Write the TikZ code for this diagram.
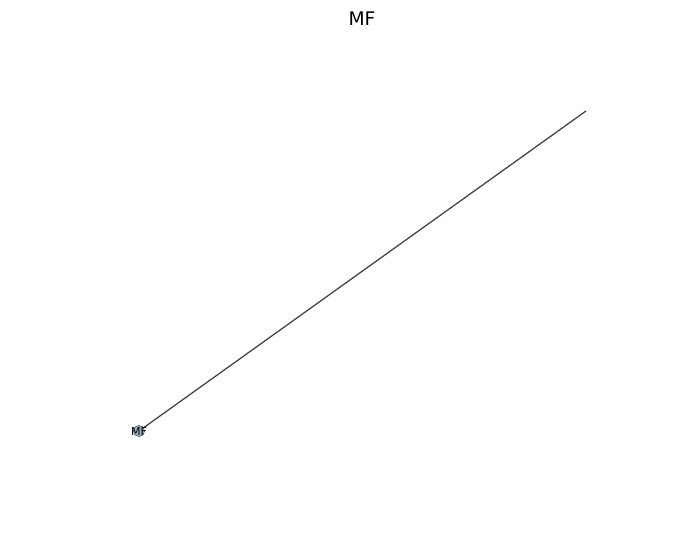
\documentclass[tikz,border=0pt]{standalone}
\usepackage{fontspec}
\setmainfont{DejaVu Sans}
\usepackage{tikz}
\usetikzlibrary{positioning}
\definecolor{NodeFill}{RGB}{160,186,202}
\definecolor{NodeEdge}{RGB}{90,100,110}
\definecolor{EdgeGray}{RGB}{64,64,64}

\begin{document}
\begin{tikzpicture}[x=0.01in, y=-0.01in,
          nd/.style={circle, fill=NodeFill, draw=NodeEdge, line width=0.4pt,
                     minimum size=0.11in, inner sep=0pt},
          lbl/.style={font=\fontsize{8}{9}\selectfont, text=black},
          ed/.style={draw=EdgeGray, line width=0.9pt}
        ]
        \useasboundingbox (0,0) rectangle (695,545);

        \node[font=\fontsize{13.5}{15}\selectfont] (title) at (362,19) {MF};

        \coordinate (far) at (586,111);
        \node[nd] (mf) at (139,431) {};
        \draw[ed] (mf.center) -- (far);
        \node[nd] at (mf) {};
        \node[lbl] (mflbl) at (mf) {MF};
      \end{tikzpicture}
\end{document}
